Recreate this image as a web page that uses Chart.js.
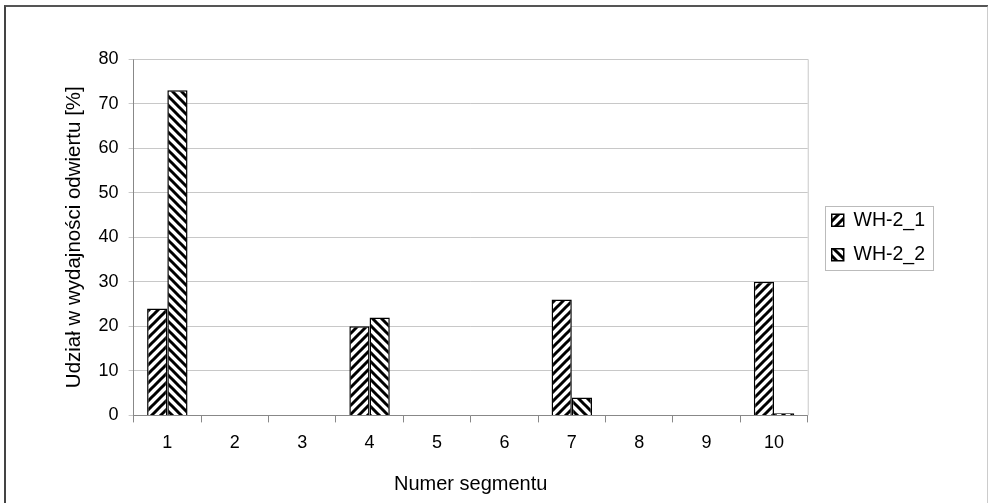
<!DOCTYPE html>
<html>
<head>
<meta charset="utf-8">
<script src="https://cdn.jsdelivr.net/npm/chart.js@4.4.1/dist/chart.umd.min.js"></script>
<style>
  html, body { margin: 0; padding: 0; background: #fff; }
  .frame {
    position: absolute; left: 4px; top: 5px; width: 981px; height: 520px;
    border-left: 2px solid #444; border-top: 2px solid #555; border-right: 2px solid #ccc;
  }
  .wrap { position: absolute; left: 0; top: 0; width: 988px; height: 503px; }
</style>
</head>
<body>
<div class="frame"></div>
<div class="wrap"><canvas id="chart" width="988" height="503"></canvas></div>
<script>
// dane z wykresu
const segmenty = ['1', '2', '3', '4', '5', '6', '7', '8', '9', '10'];
const wh21 = [24, 0, 0, 20, 0, 0, 26, 0, 0, 30];
const wh22 = [73, 0, 0, 22, 0, 0, 4, 0, 0, 0.5];
const yTicks = [0, 10, 20, 30, 40, 50, 60, 70, 80];

/* ---- Wzór kreskowania ---- */
function hatch(dir) {
  const s = 9;
  const c = document.createElement('canvas');
  c.width = c.height = s;
  const g = c.getContext('2d');
  g.fillStyle = '#fff';
  g.fillRect(0, 0, s, s);
  g.strokeStyle = '#000';
  g.lineWidth = 3;
  g.beginPath();
  if (dir === '/') {
    g.moveTo(-2, s + 2); g.lineTo(s + 2, -2);
    g.moveTo(-2, 2); g.lineTo(2, -2);
    g.moveTo(s - 2, s + 2); g.lineTo(s + 2, s - 2);
  } else {
    g.moveTo(-2, -2); g.lineTo(s + 2, s + 2);
    g.moveTo(s - 2, -2); g.lineTo(s + 2, 2);
    g.moveTo(-2, s - 2); g.lineTo(2, s + 2);
  }
  g.stroke();
  return g.createPattern(c, 'repeat');
}

/* ---- Ramka obszaru, przesunięcie i ramka legendy ---- */
const LEG_DX = 9, LEG_DY = -42;
const frames = {
  id: 'frames',
  afterUpdate(chart) {
    const l = chart.legend;
    if (!l) return;
    l.left += LEG_DX; l.right += LEG_DX;
    l.top += LEG_DY; l.bottom += LEG_DY;
    (l.legendHitBoxes || []).forEach(b => { b.left += LEG_DX; b.top += LEG_DY; });
  },
  beforeDatasetsDraw(chart) {
    const { ctx, chartArea: a } = chart;
    ctx.save();
    ctx.strokeStyle = '#c8c8c8';
    ctx.lineWidth = 1;
    ctx.beginPath();
    ctx.moveTo(a.left, a.top + 0.5);
    ctx.lineTo(a.right + 0.5, a.top + 0.5);
    ctx.lineTo(a.right + 0.5, a.bottom);
    ctx.stroke();
    ctx.restore();
  },
  afterDraw(chart) {
    const boxes = chart.legend.legendHitBoxes || [];
    if (!boxes.length) return;
    const x0 = Math.min(...boxes.map(b => b.left)) - 7;
    const x1 = Math.max(...boxes.map(b => b.left + b.width)) + 8;
    const y0 = Math.min(...boxes.map(b => b.top)) - 5;
    const y1 = Math.max(...boxes.map(b => b.top + b.height)) + 5;
    const { ctx } = chart;
    ctx.save();
    ctx.strokeStyle = '#bbb';
    ctx.lineWidth = 1;
    ctx.strokeRect(Math.round(x0) + 0.5, Math.round(y0) + 0.5, Math.round(x1 - x0), Math.round(y1 - y0));
    ctx.restore();
  }
};

const font = "'Liberation Sans', Arial, sans-serif";
Chart.defaults.font.family = font;
Chart.defaults.color = '#000';

new Chart(document.getElementById('chart'), {
  type: 'bar',
  data: {
    labels: segmenty,
    datasets: [{
      label: 'WH-2_1',
      data: wh21,
      backgroundColor: hatch('/'),
      borderColor: '#000', borderWidth: 1.5,
      categoryPercentage: 0.6, barPercentage: 1,
    }, {
      label: 'WH-2_2',
      data: wh22,
      backgroundColor: hatch('\\'),
      borderColor: '#000', borderWidth: 1.5,
      categoryPercentage: 0.6, barPercentage: 1,
    }]
  },
  options: {
    responsive: false, animation: false,
    layout: { padding: { left: 58, top: 59, right: 62, bottom: 3 } },
    plugins: {
      tooltip: { enabled: false },
      legend: {
        position: 'right',
        labels: { font: { size: 19.5 }, boxWidth: 12, boxHeight: 12, padding: 15 }
      }
    },
    scales: {
      x: {
        grid: { display: true, drawOnChartArea: false, offset: true, tickLength: 7, color: '#888' },
        border: { color: '#888' },
        ticks: { font: { size: 18 }, padding: 10 },
        title: { display: true, text: 'Numer segmentu', font: { size: 20 }, padding: { top: 8 } }
      },
      y: {
        min: 0, max: 80,
        afterBuildTicks: ax => { ax.ticks = yTicks.map(v => ({ value: v })); },
        grid: { color: '#c8c8c8', tickLength: 5 },
        border: { color: '#888' },
        ticks: { font: { size: 18 }, padding: 10 },
        title: { display: true, text: 'Udział w wydajności odwiertu [%]', font: { size: 20.5 }, padding: { bottom: 2 } }
      }
    }
  },
  plugins: [frames]
});
</script>
</body>
</html>
